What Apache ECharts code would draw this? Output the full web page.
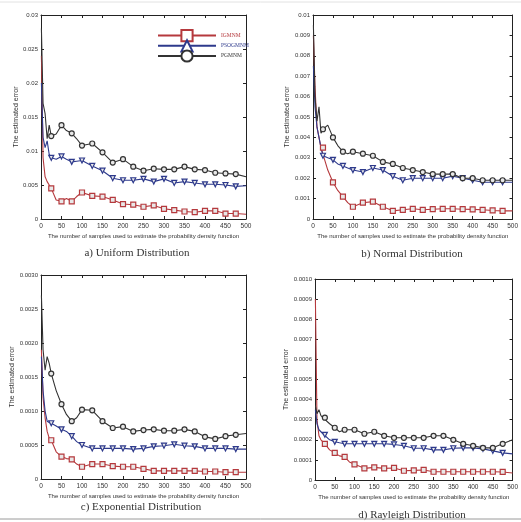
<!DOCTYPE html>
<html>
<head>
<meta charset="utf-8">
<script src="https://cdn.jsdelivr.net/npm/echarts@6/dist/echarts.min.js"></script>
<style>
  html, body { margin: 0; padding: 0; background: #fff; }
  #chart { width: 521px; height: 522px; }
</style>
</head>
<body>
<div id="chart"></div>
<script>
// sample counts (x) shared by every curve
const samples = [1, 5, 10, 15, 20, 25, 37, 50, 62, 75, 87, 100, 125, 150, 175, 200, 225, 250, 275, 300, 325, 350, 375, 400, 425, 450, 475, 500];
const xTicks = [0, 500, 50];

const seriesNames = ['IGMNM', 'PSOGMNM', 'PGMNM'];

// a) Uniform
const uniformIG = [0.024, 0.009, 0.0062, 0.0055, 0.005, 0.0045, 0.0028, 0.0026, 0.003, 0.0026, 0.0033, 0.0039, 0.0034, 0.0033, 0.0028, 0.0022, 0.0021, 0.0018, 0.002, 0.0015, 0.0013, 0.0011, 0.001, 0.0012, 0.0012, 0.0008, 0.0008, 0.0007];
const uniformPSO = [0.02, 0.012, 0.0105, 0.0115, 0.0095, 0.009, 0.0088, 0.0092, 0.0088, 0.0084, 0.0085, 0.0086, 0.0078, 0.0071, 0.006, 0.0057, 0.0057, 0.0059, 0.0055, 0.0059, 0.0053, 0.0055, 0.0053, 0.0051, 0.0051, 0.005, 0.0048, 0.0049];
const uniformPG = [0.028, 0.017, 0.0155, 0.0118, 0.0138, 0.0122, 0.0125, 0.0138, 0.013, 0.0126, 0.0118, 0.0108, 0.0111, 0.0098, 0.0083, 0.0088, 0.0077, 0.0071, 0.0074, 0.0073, 0.0073, 0.0077, 0.0073, 0.0072, 0.0068, 0.0067, 0.0066, 0.0062];

// b) Normal
const normalIG = [0.009, 0.0065, 0.0045, 0.004, 0.0035, 0.0035, 0.0024, 0.0018, 0.0014, 0.0011, 0.0008, 0.0006, 0.0008, 0.00085, 0.0006, 0.0004, 0.00045, 0.0005, 0.00045, 0.00048, 0.0005, 0.0005, 0.00048, 0.00047, 0.00045, 0.00042, 0.0004, 0.0004];
const normalPSO = [0.0075, 0.0055, 0.0045, 0.004, 0.0035, 0.0031, 0.003, 0.0029, 0.0027, 0.0026, 0.0025, 0.0024, 0.0023, 0.0025, 0.0024, 0.0021, 0.0019, 0.002, 0.002, 0.002, 0.002, 0.0021, 0.002, 0.0019, 0.0018, 0.0018, 0.0018, 0.0018];
const normalPG = [0.0095, 0.006, 0.0048, 0.0055, 0.0042, 0.0044, 0.0046, 0.004, 0.0036, 0.0033, 0.0032, 0.0033, 0.0032, 0.0031, 0.0028, 0.0027, 0.0025, 0.0024, 0.0023, 0.0022, 0.0022, 0.0022, 0.002, 0.002, 0.0019, 0.0019, 0.0019, 0.0019];

// c) Exponential
const expIG = [0.0019, 0.0012, 0.0009, 0.0007, 0.0006, 0.00057, 0.0004, 0.00033, 0.0003, 0.00029, 0.00022, 0.00018, 0.00022, 0.00022, 0.00019, 0.00018, 0.00018, 0.00015, 0.00012, 0.00012, 0.00012, 0.00012, 0.00012, 0.00011, 0.00011, 0.0001, 0.0001, 0.0001];
const expPSO = [0.0018, 0.0013, 0.001, 0.00085, 0.00083, 0.00082, 0.00078, 0.00073, 0.0007, 0.00063, 0.00055, 0.0005, 0.00045, 0.00045, 0.00045, 0.00045, 0.00044, 0.00045, 0.00048, 0.00049, 0.00051, 0.00049, 0.00048, 0.00045, 0.00045, 0.00045, 0.00044, 0.00044];
const expPG = [0.0027, 0.0019, 0.0016, 0.0018, 0.0017, 0.00155, 0.0013, 0.0011, 0.00095, 0.00085, 0.0009, 0.00102, 0.00101, 0.00085, 0.00075, 0.00077, 0.0007, 0.00072, 0.00073, 0.00071, 0.00071, 0.00073, 0.0007, 0.00062, 0.00059, 0.00063, 0.00065, 0.00067];

// d) Rayleigh
const rayIG = [0.0009, 0.0003, 0.00022, 0.0002, 0.00019, 0.00018, 0.00015, 0.000135, 0.00012, 0.000115, 0.00009, 0.000078, 0.000058, 0.000063, 0.000058, 0.00006, 0.000046, 0.000048, 0.00005, 0.000041, 0.000041, 0.000041, 0.000041, 0.000041, 0.000041, 0.000041, 0.00004, 0.000035];
const rayPSO = [0.00035, 0.00028, 0.00025, 0.00024, 0.00023, 0.000225, 0.0002, 0.00019, 0.000185, 0.00018, 0.00018, 0.00018, 0.00018, 0.00018, 0.00018, 0.000177, 0.00017, 0.000158, 0.000158, 0.00015, 0.00015, 0.000158, 0.00016, 0.00016, 0.000155, 0.000145, 0.000135, 0.00013];
const rayPG = [0.00037, 0.00033, 0.00035, 0.00032, 0.00031, 0.00031, 0.00028, 0.00026, 0.00024, 0.00025, 0.00025, 0.00025, 0.00023, 0.00024, 0.00022, 0.00021, 0.00021, 0.00021, 0.00021, 0.00022, 0.00022, 0.0002, 0.00018, 0.00017, 0.00016, 0.00016, 0.00018, 0.0002];

const yMaxes = [0.03, 0.01, 0.003, 0.001];
const yIntervals = [0.005, 0.001, 0.0005, 0.0001];
const captions = ['a) Uniform Distribution', 'b) Normal Distribution', 'c) Exponential Distribution', 'd) Rayleigh Distribution'];
const xName = 'The number of samples used to estimate the probability density function';
const yName = 'The estimated error';

const panelData = [
  [uniformIG, uniformPSO, uniformPG],
  [normalIG, normalPSO, normalPG],
  [expIG, expPSO, expPG],
  [rayIG, rayPSO, rayPG]
];

// layout
const grids = [
  { left: 41, top: 15, width: 205, height: 204 },
  { left: 313, top: 15, width: 206, height: 204 },
  { left: 41, top: 275, width: 205, height: 204 },
  { left: 315, top: 279, width: 204, height: 201 }
];
const captionPos = [[137, 253], [412, 254], [141, 507], [412, 515]];

const colors = ['#b5393d', '#2e3a8c', '#333333'];
const symbols = ['rect', 'triangle', 'circle'];
const symbolRot = [0, 180, 0];
const labelFont = 'Liberation Sans';

let myChart = echarts.init(document.getElementById('chart'), null, { renderer: 'canvas' });

let xAxes = [], yAxes = [], series = [], graphics = [];

grids.forEach((g, i) => {
  let yFmt = (v) => {
    if (v === 0) return '0';
    if (i >= 2) return v.toFixed(4);
    return String(+v.toFixed(4));
  };
  let common = {
    gridIndex: i,
    type: 'value',
    axisLine: { show: true, onZero: false, lineStyle: { color: '#222', width: 1 } },
    axisTick: { show: true, inside: true, length: 3, lineStyle: { color: '#222' } },
    splitLine: { show: false }
  };
  // bottom / left axes with labels
  xAxes.push(Object.assign({}, common, {
    position: 'bottom', min: xTicks[0], max: xTicks[1], interval: xTicks[2],
    name: xName, nameLocation: 'middle', nameGap: 14,
    nameTextStyle: { fontSize: 6, color: '#333', fontFamily: labelFont },
    axisLabel: { fontSize: 6.5, color: '#333', margin: 4, fontFamily: labelFont }
  }));
  yAxes.push(Object.assign({}, common, {
    position: 'left', min: 0, max: yMaxes[i], interval: yIntervals[i],
    name: yName, nameLocation: 'middle', nameGap: i % 2 ? 22 : 20,
    nameTextStyle: { fontSize: 7, color: '#333', fontFamily: labelFont },
    axisLabel: { fontSize: 6, color: '#333', margin: 3, formatter: yFmt, fontFamily: labelFont }
  }));
  // top / right box axes, ticks only
  xAxes.push(Object.assign({}, common, {
    position: 'top', min: xTicks[0], max: xTicks[1], interval: xTicks[2],
    axisLabel: { show: false }
  }));
  yAxes.push(Object.assign({}, common, {
    position: 'right', min: 0, max: yMaxes[i], interval: yIntervals[i],
    axisLabel: { show: false }
  }));

  panelData[i].forEach((ys, k) => {
    series.push({
      name: seriesNames[k],
      type: 'line',
      xAxisIndex: i * 2,
      yAxisIndex: i * 2,
      symbol: symbols[k],
      symbolSize: 5,
      symbolRotate: symbolRot[k],
      showAllSymbol: true,
      animation: false,
      lineStyle: { color: colors[k], width: 1.1 },
      itemStyle: { color: '#e8e8e8', borderColor: colors[k], borderWidth: 1.2 },
      data: samples.map((x, j) => {
        let item = { value: [x, ys[j]] };
        if (x % 25 !== 0 || x >= 500) item.symbol = 'none';
        return item;
      })
    });
  });

  graphics.push({
    type: 'text',
    x: captionPos[i][0],
    y: captionPos[i][1],
    style: {
      text: captions[i],
      font: '11px "Liberation Serif"',
      fill: '#333',
      align: 'center',
      verticalAlign: 'middle'
    }
  });
});

// thin page rules top and bottom
graphics.push({ type: 'line', shape: { x1: 0, y1: 2, x2: 521, y2: 2 }, style: { stroke: '#e2e2e2', lineWidth: 1 } });
graphics.push({ type: 'line', shape: { x1: 0, y1: 519, x2: 521, y2: 519 }, style: { stroke: '#9a9a9a', lineWidth: 1 } });

let option = {
  backgroundColor: '#fff',
  animation: false,
  grid: grids,
  xAxis: xAxes,
  yAxis: yAxes,
  legend: {
    left: 152,
    top: 24,
    orient: 'vertical',
    itemWidth: 58,
    itemHeight: 14,
    itemGap: -3,
    symbolRotate: 0,
    data: seriesNames.map((n, k) => ({
      name: n,
      itemStyle: { color: '#fff' },
      textStyle: { color: colors[k], fontSize: 5.5, fontFamily: 'Liberation Serif' }
    }))
  },
  graphic: graphics,
  series: series
};

myChart.setOption(option, true);
</script>
</body>
</html>
